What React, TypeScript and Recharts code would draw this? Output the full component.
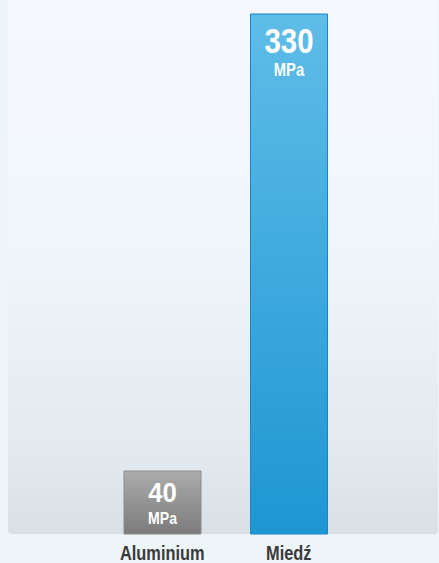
import { BarChart, Bar, XAxis, YAxis, Cell, LabelList } from "recharts"

const metals = ["Aluminium", "Miedź"]
const strength = [40, 330]
const unit = "MPa"

const data = metals.map((name, i) => ({ name, value: strength[i] }))
const fills = ["url(#gradGray)", "url(#gradBlue)"]
const strokes = ["#8c8c8c", "#1b84c6"]

const FONT = "'Liberation Sans', Arial, sans-serif"

// narrow text: squeeze horizontally around its anchor point
function Narrow({ x, y, size, fill, children, sx = 0.82 }: any) {
  return (
    <text
      transform={`translate(${x},${y}) scale(${sx},1)`}
      textAnchor="middle"
      fill={fill}
      fontFamily={FONT}
      fontWeight="bold"
      fontSize={size}
    >
      {children}
    </text>
  )
}

function ValueLabel(props: any) {
  const { x, y, width, height, value } = props
  const big = height > 150
  const cx = x + width / 2
  return (
    <g>
      <Narrow x={cx} y={y + (big ? 39 : 31)} size={big ? 35 : 28} fill="#fff" sx={big ? 0.84 : 0.92}>
        {value}
      </Narrow>
      <Narrow x={cx} y={y + (big ? 62 : 53)} size={big ? 18 : 16} fill="#fff" sx={big ? 0.82 : 0.88}>
        {unit}
      </Narrow>
    </g>
  )
}

function CategoryTick(props: any) {
  const { x, payload } = props
  return (
    <Narrow x={x} y={560} size={20} fill="#3a3a3a">
      {payload.value}
    </Narrow>
  )
}

export default function App() {
  return (
    <div style={{ position: "absolute", left: 0, top: 0, width: 439, height: 563, background: "#eef5f8", overflow: "hidden" }}>
      <div
        style={{
          position: "absolute",
          left: 8,
          top: -6,
          width: 430,
          height: 540,
          borderRadius: 4,
          background: "linear-gradient(to bottom, #f5f9fd 0%, #f1f6fa 45%, #e2e9ef 85%, #d8e0e6 100%)",
        }}
      />
      <div style={{ position: "absolute", left: 8, top: 0 }}>
        <BarChart width={431} height={563} data={data} margin={{ top: 14, right: 87, bottom: 0, left: 91 }}>
          <defs>
            <linearGradient id="gradGray" x1="0" y1="0" x2="0" y2="1">
              <stop offset="0%" stopColor="#acacac" />
              <stop offset="100%" stopColor="#7b7b7b" />
            </linearGradient>
            <linearGradient id="gradBlue" x1="0" y1="0" x2="0" y2="1">
              <stop offset="0%" stopColor="#5fbde8" />
              <stop offset="100%" stopColor="#1e96d3" />
            </linearGradient>
          </defs>
          <XAxis dataKey="name" axisLine={false} tickLine={false} height={29} tick={<CategoryTick />} interval={0} />
          <YAxis hide domain={[0, 330]} />
          <Bar dataKey="value" barSize={77} isAnimationActive={false}>
            {data.map((d, i) => (
              <Cell key={d.name} fill={fills[i]} stroke={strokes[i]} strokeWidth={1} />
            ))}
            <LabelList dataKey="value" content={<ValueLabel />} />
          </Bar>
        </BarChart>
      </div>
    </div>
  )
}
